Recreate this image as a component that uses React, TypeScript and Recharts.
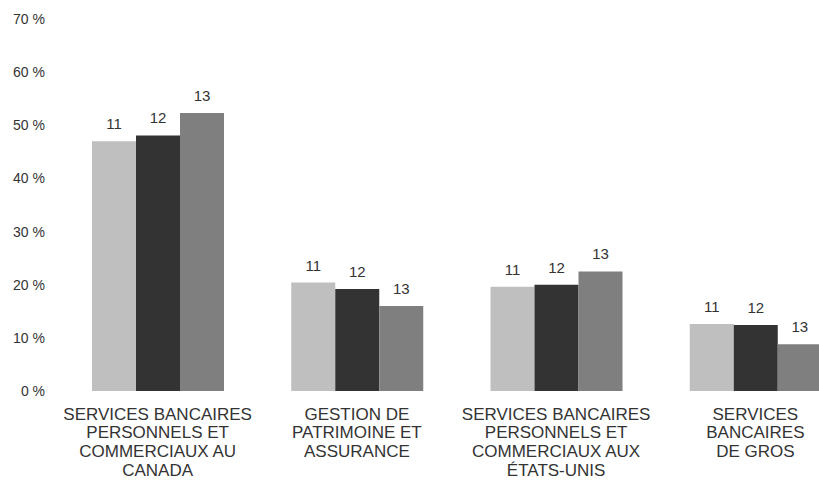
import React from "react";
import { Bar, BarChart, LabelList, XAxis, YAxis } from "recharts";

const CATEGORIES = [
	"SERVICES BANCAIRES\nPERSONNELS ET\nCOMMERCIAUX AU\nCANADA",
	"GESTION DE\nPATRIMOINE ET\nASSURANCE",
	"SERVICES BANCAIRES\nPERSONNELS ET\nCOMMERCIAUX AUX\nÉTATS-UNIS",
	"SERVICES\nBANCAIRES\nDE GROS",
];

const SERIES_11 = [47.0, 20.4, 19.6, 12.6];
const SERIES_12 = [48.1, 19.2, 20.0, 12.4];
const SERIES_13 = [52.3, 16.0, 22.5, 8.8];

const Y_TICKS = [0, 10, 20, 30, 40, 50, 60, 70];

const SERIES = [
	{ key: "s11", label: "11", color: "#bfbfbf" },
	{ key: "s12", label: "12", color: "#333333" },
	{ key: "s13", label: "13", color: "#7f7f7f" },
];

const FONT = '"Liberation Sans", Arial, sans-serif';

const data = CATEGORIES.map((name, i) => ({
	name,
	s11: SERIES_11[i],
	s12: SERIES_12[i],
	s13: SERIES_13[i],
}));

function CategoryTick({ x, y, payload }: any) {
	const lines = String(payload.value).split("\n");
	return (
		<text
			x={x}
			y={y}
			textAnchor="middle"
			fill="#333333"
			fontSize={17}
			fontFamily={FONT}
		>
			{lines.map((line, i) => (
				<tspan key={i} x={x} y={y + 28.5 + i * 18.8}>
					{line}
				</tspan>
			))}
		</text>
	);
}

export default function App() {
	return (
		<div
			style={{
				position: "fixed",
				left: 0,
				top: 0,
				width: 819,
				height: 480,
				overflow: "hidden",
				background: "#ffffff",
			}}
		>
			<BarChart
				width={860}
				height={480}
				data={data}
				margin={{ top: 19, right: 5, left: 0, bottom: 0 }}
				barGap={0}
				barSize={44}
			>
				<XAxis
					dataKey="name"
					axisLine={false}
					tickLine={false}
					tickSize={0}
					tickMargin={0}
					height={89}
					interval={0}
					tick={<CategoryTick />}
				/>
				<YAxis
					domain={[0, 70]}
					ticks={Y_TICKS}
					width={58}
					axisLine={false}
					tickLine={false}
					tickSize={0}
					tickMargin={13}
					tickFormatter={(v) => `${v} %`}
					tick={{ fontSize: 14, fill: "#333333", fontFamily: FONT }}
				/>
				{SERIES.map((s) => (
					<Bar
						key={s.key}
						dataKey={s.key}
						fill={s.color}
						isAnimationActive={false}
					>
						<LabelList
							dataKey={s.key}
							position="top"
							offset={12}
							formatter={() => s.label}
							fill="#333333"
							fontSize={15}
							fontFamily={FONT}
						/>
					</Bar>
				))}
			</BarChart>
		</div>
	);
}
